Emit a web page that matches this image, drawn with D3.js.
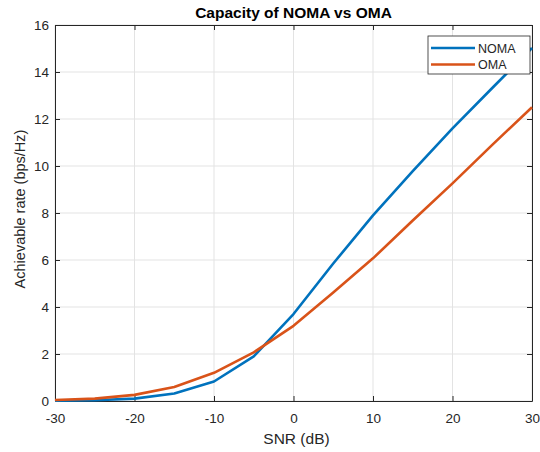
<!DOCTYPE html>
<html>
<head>
  <meta charset="utf-8">
  <script src="https://cdn.jsdelivr.net/npm/d3@7"></script>
  <style>
    body { margin: 0; background: white; }
    svg { font-family: Arial, "Liberation Sans", sans-serif; }
  </style>
</head>
<body>
  <script>
    const snr = [-30, -25, -20, -15, -10, -5, 0, 5, 10, 15, 20, 25, 30]
    const noma = [0.01, 0.03, 0.1, 0.32, 0.83, 1.9, 3.7, 5.85, 7.9, 9.78, 11.6, 13.32, 15.02]
    const oma = [0.04, 0.1, 0.26, 0.6, 1.2, 2.07, 3.2, 4.62, 6.07, 7.68, 9.26, 10.9, 12.5]
    const xTicks = [-30, -20, -10, 0, 10, 20, 30]
    const yTicks = [0, 2, 4, 6, 8, 10, 12, 14, 16]
    const series = [
      { name: 'NOMA', values: noma, color: '#0072BD' },
      { name: 'OMA', values: oma, color: '#D95319' }
    ]

    const width = 540, height = 452
    const plotL = 55, plotR = 532, plotT = 25, plotB = 401

    const svg = d3.select('body').append('svg')
      .attr('width', width)
      .attr('height', height)

    const x = d3.scaleLinear().domain([-30, 30]).range([plotL, plotR])
    const y = d3.scaleLinear().domain([0, 16]).range([plotB, plotT])

    // grid
    svg.append('g').selectAll('line').data(xTicks).join('line')
      .attr('x1', d => x(d)).attr('x2', d => x(d))
      .attr('y1', plotT).attr('y2', plotB)
      .attr('stroke', '#e3e3e3').attr('stroke-width', 1)
    svg.append('g').selectAll('line').data(yTicks).join('line')
      .attr('x1', plotL).attr('x2', plotR)
      .attr('y1', d => y(d)).attr('y2', d => y(d))
      .attr('stroke', '#e3e3e3').attr('stroke-width', 1)

    // axes with inward ticks
    const fmt = d => String(d)
    const axisStyle = g => {
      g.select('.domain').attr('stroke', '#262626')
      g.selectAll('.tick line').attr('stroke', '#262626')
      g.selectAll('.tick text').attr('fill', '#262626').style('font-size', '13.5px')
    }
    svg.append('g').attr('transform', `translate(0,${plotB})`)
      .call(d3.axisBottom(x).tickValues(xTicks).tickFormat(fmt).tickSizeInner(-5).tickSizeOuter(0).tickPadding(12))
      .call(axisStyle)
    svg.append('g').attr('transform', `translate(0,${plotT})`)
      .call(d3.axisTop(x).tickValues(xTicks).tickSizeInner(-5).tickSizeOuter(0).tickFormat(''))
      .call(axisStyle)
    svg.append('g').attr('transform', `translate(${plotL},0)`)
      .call(d3.axisLeft(y).tickValues(yTicks).tickFormat(fmt).tickSizeInner(-5).tickSizeOuter(0).tickPadding(6))
      .call(axisStyle)
    svg.append('g').attr('transform', `translate(${plotR},0)`)
      .call(d3.axisRight(y).tickValues(yTicks).tickSizeInner(-5).tickSizeOuter(0).tickFormat(''))
      .call(axisStyle)

    // lines
    const line = d3.line()
      .x((d, i) => x(snr[i]))
      .y(d => y(d))
    svg.append('g').selectAll('path').data(series).join('path')
      .attr('d', d => line(d.values))
      .attr('fill', 'none')
      .attr('stroke', d => d.color)
      .attr('stroke-width', 2.6)
      .attr('stroke-linejoin', 'round')

    // legend
    const lg = svg.append('g').attr('transform', 'translate(428,36)')
    lg.append('rect')
      .attr('width', 102).attr('height', 38)
      .attr('fill', 'white').attr('stroke', '#262626').attr('stroke-width', 0.8)
    series.forEach((s, i) => {
      const yy = 12 + i * 16.5
      lg.append('line')
        .attr('x1', 3).attr('x2', 47).attr('y1', yy).attr('y2', yy)
        .attr('stroke', s.color).attr('stroke-width', 2.6)
      lg.append('text')
        .attr('x', 50).attr('y', yy + 4.5)
        .attr('fill', '#262626').style('font-size', '12.5px')
        .text(s.name)
    })

    // labels
    svg.append('text')
      .attr('x', (plotL + plotR) / 2).attr('y', 18)
      .attr('text-anchor', 'middle')
      .style('font-size', '15.5px').style('font-weight', 'bold')
      .text('Capacity of NOMA vs OMA')
    svg.append('text')
      .attr('x', (plotL + plotR) / 2 + 3).attr('y', 444)
      .attr('text-anchor', 'middle').attr('fill', '#262626')
      .style('font-size', '15.5px')
      .text('SNR (dB)')
    svg.append('text')
      .attr('transform', `translate(25,209) rotate(-90)`)
      .attr('text-anchor', 'middle').attr('fill', '#262626')
      .style('font-size', '14.5px')
      .text('Achievable rate (bps/Hz)')
  </script>
</body>
</html>
